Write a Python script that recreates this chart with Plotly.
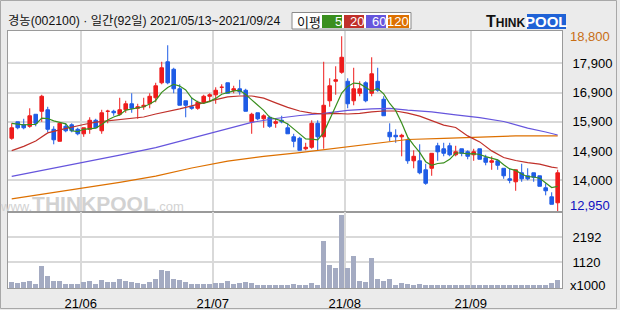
import plotly.graph_objects as go
import pandas as pd

# ---------------- data ----------------
day_index = list(range(92))
opens = [15400, 15950, 15850, 15800, 16200, 16300, 16350, 15700, 15300, 15800,
         15850, 15700, 15550, 15700, 16000, 15650, 16300, 16300, 16200, 16350,
         16550, 16400, 16450, 16550, 16750, 17250, 17950, 17700, 17050, 16650,
         16450, 16400, 16600, 16800, 16850, 17100, 17250, 17000, 17050, 17000,
         15950, 16250, 16050, 16100, 15900, 16000, 15750, 15450, 15400, 15050,
         15100, 15900, 15450, 16650, 17300, 17600, 17300, 16650, 16900, 17250,
         16900, 17300, 16700, 15600, 15500, 15450, 15350, 14650, 14650, 14350,
         14400, 15150, 15050, 15150, 14850, 15050, 14950, 14850, 15050, 14750,
         14600, 14650, 14400, 14050, 13950, 14250, 14150, 14250, 14150, 13750,
         13450, 13250]
highs = [15900, 15950, 16050, 16400, 16200, 16850, 16450, 15800, 15900, 15900,
         15900, 15750, 15750, 16100, 16050, 16350, 16350, 16350, 16750, 16650,
         16900, 16550, 16750, 16900, 17250, 17950, 18500, 17750, 17200, 16650,
         16750, 16650, 16850, 16900, 17100, 17200, 17250, 17150, 17350, 17050,
         16250, 16250, 16200, 16150, 16050, 16150, 15900, 15550, 15450, 15250,
         16000, 16000, 17950, 17400, 17800, 18800, 17400, 17750, 17300, 17300,
         18100, 17750, 16800, 15900, 15700, 15550, 15400, 15000, 15200, 14550,
         14900, 15250, 15250, 15250, 15150, 15050, 15000, 15050, 15050, 14850,
         14800, 14700, 14400, 14400, 14350, 14550, 14400, 14250, 14150, 13900,
         13600, 14350]
lows = [15350, 15700, 15700, 15750, 15800, 15950, 15600, 15200, 15300, 15600,
        15600, 15500, 15450, 15550, 15750, 15550, 15900, 16150, 16150, 16250,
        16250, 16050, 16350, 16400, 16600, 17200, 17200, 16900, 16500, 16100,
        16350, 16350, 16550, 16600, 16550, 16900, 16900, 16900, 16850, 16300,
        15550, 16000, 15750, 15750, 15750, 15900, 15550, 15100, 15000, 15000,
        15050, 15000, 15050, 16450, 16850, 17550, 16400, 16500, 16800, 16600,
        16800, 16950, 16150, 15300, 15250, 14800, 14550, 14400, 14200, 13850,
        14150, 14650, 14800, 14800, 14800, 14800, 14700, 14650, 14700, 14500,
        14350, 14350, 14050, 13900, 13650, 13950, 14000, 13950, 13800, 13500,
        13200, 12950]
closes = [15750, 15750, 15750, 16150, 15900, 16800, 15700, 15350, 15900, 15650,
          15650, 15550, 15750, 16000, 15750, 16250, 16300, 16250, 16350, 16550,
          16400, 16450, 16500, 16800, 17150, 17750, 17250, 17050, 16500, 16500,
          16400, 16600, 16800, 16850, 17000, 17100, 16900, 17050, 16950, 16300,
          16200, 16050, 16150, 15800, 15950, 15950, 15550, 15300, 15000, 15100,
          15900, 15450, 16500, 17150, 17350, 18100, 16550, 17050, 17050, 16650,
          17550, 17000, 16150, 15450, 15450, 15500, 14650, 14800, 14250, 13900,
          14900, 14950, 14900, 14850, 14950, 14900, 14800, 14950, 14700, 14600,
          14650, 14500, 14150, 14000, 14350, 14050, 14050, 14100, 13800, 13650,
          13200, 14250]
volumes = [260, 200, 250, 320, 180, 960, 500, 320, 320, 180,
           180, 180, 250, 320, 180, 360, 250, 280, 400, 320,
           270, 230, 180, 270, 380, 790, 750, 400, 350, 250,
           180, 180, 180, 180, 220, 220, 300, 180, 230, 260,
           230, 140, 140, 140, 140, 140, 140, 180, 140, 140,
           210, 110, 2050, 1010, 860, 3180, 860, 1400, 320, 280,
           1290, 370, 320, 370, 150, 230, 190, 150, 190, 150,
           120, 120, 120, 120, 110, 110, 110, 110, 110, 110,
           110, 110, 110, 110, 110, 110, 110, 150, 110, 150,
           200, 340]

ma5_first = [15900, 15880, 15850, 15860]   # first 4 MA5 values

ma20_idx = [0, 2, 4, 6, 8, 10, 12, 14, 16, 18, 20, 22, 24, 26, 28, 30, 32, 34, 36, 38,
            40, 42, 44, 46, 48, 50, 52, 54, 56, 58, 60, 62, 64, 66, 68, 70, 72, 74, 76,
            78, 80, 82, 84, 86, 88, 90, 91]
ma20_val = [14990, 15130, 15310, 15580, 15680, 15780, 15860, 15940, 15980, 16010,
            16060, 16110, 16210, 16290, 16380, 16480, 16590, 16690, 16780, 16810,
            16810, 16740, 16580, 16430, 16310, 16240, 16210, 16230, 16210, 16230,
            16280, 16310, 16310, 16240, 16140, 15980, 15840, 15760, 15480, 15280,
            14980, 14760, 14660, 14590, 14540, 14440, 14410]

ma60_idx = [0, 6, 12, 18, 24, 30, 36, 40, 44, 48, 52, 56, 60, 63, 66, 70, 74, 78, 82,
            86, 89, 91]
ma60_val = [14130, 14360, 14610, 14840, 15090, 15410, 15730, 15930, 16060, 16160,
            16230, 16330, 16380, 16400, 16340, 16280, 16180, 16090, 15960, 15740,
            15610, 15510]

ma120_idx = [0, 6, 12, 18, 24, 30, 36, 42, 48, 54, 60, 66, 72, 78, 84, 91]
ma120_val = [13380, 13560, 13740, 13930, 14140, 14410, 14640, 14800, 14920, 15070,
             15230, 15360, 15400, 15450, 15480, 15480]

month_pos = [11.5, 33.5, 55.5, 76.5]
month_labels = ['21/06', '21/07', '21/08', '21/09']
price_ticks = [14000, 14975, 15950, 16925, 17900]
price_tick_labels = ['14,000', '14,900', '15,900', '16,900', '17,900']
vol_ticks = [1120, 2192]
vol_tick_labels = ['1120', '2192']
price_max_label = '18,800'
price_min_label = '12,950'
title_text = '경농(002100) · 일간(92일) 2021/05/13~2021/09/24'
ma_names = ['5', '20', '60', '120']

# ---------------- styling ----------------
RED = '#ee1c1c'
BLUE = '#1f5ce6'
C_MA5 = '#3a8f1e'
C_MA20 = '#c0302a'
C_MA60 = '#6655dd'
C_MA120 = '#dd7000'
GRID = '#d9d9d9'
FRAME = '#9a9a9a'
NUMFONT = 'Liberation Sans, Arial, sans-serif'
TITLEFONT = 'Liberation Sans, Noto Sans CJK KR, sans-serif'
NUMSIZE = 13

W, H = 620, 310
ML, MR, MT, MB = 8, 58, 31, 22
PW, PH = W - ML - MR, H - MT - MB
SPLIT = 212  # pixel y of price/volume separator


def px(x):
    return (x - ML) / PW


def py(y):
    return (H - MB - y) / PH


ma5 = ma5_first + list(pd.Series(closes).rolling(5).mean()[4:])

fig = go.Figure()

fig.add_trace(go.Scatter(x=ma120_idx, y=ma120_val, mode='lines',
                         line=dict(color=C_MA120, width=1.2), hoverinfo='skip',
                         xaxis='x', yaxis='y'))
fig.add_trace(go.Scatter(x=ma60_idx, y=ma60_val, mode='lines',
                         line=dict(color=C_MA60, width=1.2), hoverinfo='skip',
                         xaxis='x', yaxis='y'))
fig.add_trace(go.Scatter(x=ma20_idx, y=ma20_val, mode='lines',
                         line=dict(color=C_MA20, width=1.2), hoverinfo='skip',
                         xaxis='x', yaxis='y'))
fig.add_trace(go.Scatter(x=day_index, y=ma5, mode='lines',
                         line=dict(color=C_MA5, width=1.2), hoverinfo='skip',
                         xaxis='x', yaxis='y'))
fig.add_trace(go.Candlestick(
    x=day_index, open=opens, high=highs, low=lows, close=closes,
    increasing=dict(line=dict(color=RED, width=1), fillcolor=RED),
    decreasing=dict(line=dict(color=BLUE, width=1), fillcolor=BLUE),
    whiskerwidth=0, hoverinfo='skip', xaxis='x', yaxis='y'))
fig.add_trace(go.Bar(x=day_index, y=volumes, marker=dict(color='#a4abc2', line=dict(width=0)),
                     width=0.8, hoverinfo='skip', xaxis='x2', yaxis='y2'))

price_dom0 = py(SPLIT)
axis_common = dict(showline=True, mirror=True, linecolor=FRAME, linewidth=1,
                   zeroline=False, showgrid=True, gridcolor=GRID, gridwidth=1.5,
                   fixedrange=True, automargin=False)

fig.update_layout(
    width=W, height=H, autosize=False,
    margin=dict(l=ML, r=MR, t=MT, b=MB, pad=0, autoexpand=False),
    paper_bgcolor='#ebebeb', plot_bgcolor='#ffffff',
    showlegend=False, boxgap=0.15, bargap=0,
    xaxis=dict(domain=[0, 1], anchor='y', range=[-0.62, 91.72], tickvals=month_pos,
               showticklabels=False, ticks='', rangeslider=dict(visible=False), **axis_common),
    xaxis2=dict(domain=[0, 1], anchor='y2', matches='x', range=[-0.62, 91.72],
                tickvals=month_pos, ticktext=month_labels, ticks='',
                tickfont=dict(family=NUMFONT, size=NUMSIZE, color='#000'),
                ticklabelstandoff=3, rangeslider=dict(visible=False), **axis_common),
    yaxis=dict(domain=[price_dom0, 1], anchor='x', range=[12943, 18976], side='right',
               tickvals=price_ticks, ticktext=price_tick_labels, ticks='',
               tickfont=dict(family=NUMFONT, size=NUMSIZE, color='#000'),
               ticklabelstandoff=7, **axis_common),
    yaxis2=dict(domain=[0, price_dom0], anchor='x2', range=[0, 3290], side='right',
                tickvals=vol_ticks, ticktext=vol_tick_labels, ticks='',
                tickfont=dict(family=NUMFONT, size=NUMSIZE, color='#000'),
                ticklabelstandoff=7, **axis_common),
)

shapes = []
annotations = []

# outer frame
shapes.append(dict(type='rect', xref='paper', yref='paper', x0=px(0.5), x1=px(616.5),
                   y0=py(308.5), y1=py(0.5), line=dict(color='#a8a8a8', width=1),
                   fillcolor='rgba(0,0,0,0)', layer='below'))

# title
annotations.append(dict(xref='paper', yref='paper', x=px(6), y=py(21.5), xanchor='left',
                        yanchor='middle', text=title_text, showarrow=False,
                        font=dict(family=TITLEFONT, size=12.3, color='#111')))

# MA legend box
shapes.append(dict(type='rect', xref='paper', yref='paper', x0=px(292), x1=px(411),
                   y0=py(29), y1=py(12.5), line=dict(color='#8a8a8a', width=1),
                   fillcolor='#ffffff'))
annotations.append(dict(xref='paper', yref='paper', x=px(295), y=py(21.5), xanchor='left',
                        yanchor='middle', text='이평', showarrow=False,
                        font=dict(family='Noto Sans CJK KR, sans-serif', size=13, color='#111')))
box_x = [(322, 342), (344, 364), (366, 386), (388, 409)]
for (x0, x1), name, col in zip(box_x, ma_names, [C_MA5, C_MA20, C_MA60, C_MA120]):
    shapes.append(dict(type='rect', xref='paper', yref='paper', x0=px(x0), x1=px(x1),
                       y0=py(28), y1=py(15), line=dict(width=0), fillcolor=col))
    annotations.append(dict(xref='paper', yref='paper', x=px(x1 + 1), y=py(21.5), xanchor='right',
                            yanchor='middle', text=name, showarrow=False, borderpad=0,
                            font=dict(family=NUMFONT, size=13, color='#ffffff')))

# ThinkPool logo
shapes.append(dict(type='rect', xref='paper', yref='paper', x0=px(527), x1=px(566),
                   y0=py(29), y1=py(14), line=dict(width=0), fillcolor='#1f62d6'))
annotations.append(dict(xref='paper', yref='paper', x=px(527), y=py(22), xanchor='right',
                        yanchor='middle', showarrow=False,
                        text='<b>T<span style="font-size:12px">HINK</span></b>',
                        font=dict(family='Liberation Sans, Arial, sans-serif', size=16, color='#111')))
annotations.append(dict(xref='paper', yref='paper', x=px(546.5), y=py(22), xanchor='center',
                        yanchor='middle', showarrow=False, text='<b>POOL</b>',
                        font=dict(family='Liberation Sans, Arial, sans-serif', size=15, color='#ffffff')))

# watermark
annotations.append(dict(xref='paper', yref='paper', x=px(92), y=py(203.5), xanchor='center',
                        yanchor='middle', showarrow=False,
                        text='www.<span style="font-size:21px"><b>THINKPOOL</b></span>.com',
                        font=dict(family='Liberation Sans, Arial, sans-serif', size=13, color='#d2d2d2')))

# max / min price labels
annotations.append(dict(xref='paper', yref='y', x=1, y=18800, xanchor='left', yanchor='middle',
                        xshift=6, showarrow=False, text=price_max_label,
                        font=dict(family=NUMFONT, size=NUMSIZE, color='#c86e14')))
annotations.append(dict(xref='paper', yref='paper', x=1, y=py(205), xanchor='left',
                        yanchor='middle', xshift=6, showarrow=False, text=price_min_label,
                        font=dict(family=NUMFONT, size=NUMSIZE, color='#1010c0')))
# volume unit
annotations.append(dict(xref='paper', yref='paper', x=1, y=py(285), xanchor='left',
                        yanchor='middle', xshift=6, showarrow=False, text='x1000',
                        font=dict(family=NUMFONT, size=NUMSIZE, color='#000')))

fig.update_layout(shapes=shapes, annotations=annotations)

fig.write_html('out.html')
